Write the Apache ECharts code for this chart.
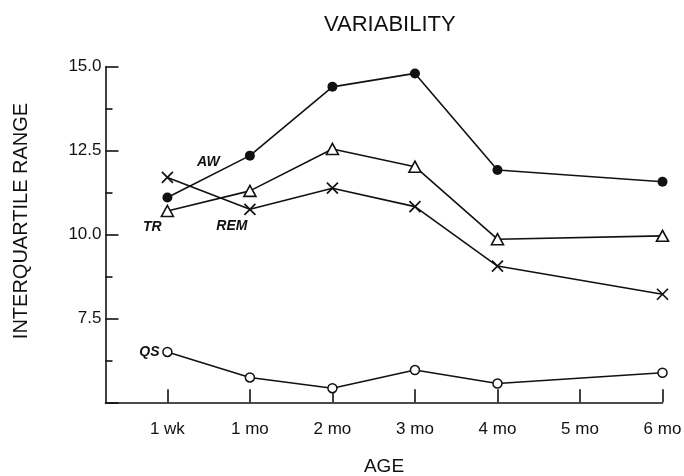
<!DOCTYPE html>
<html>
<head>
<meta charset="utf-8">
<script src="https://cdn.jsdelivr.net/npm/echarts@6/dist/echarts.min.js"></script>
<style>
  html, body { margin: 0; padding: 0; background: #fff; }
  #chart { width: 684px; height: 476px; }
</style>
</head>
<body>
<div id="chart"></div>
<script>
// age categories along the x axis
const ageLabels = ['1 wk', '1 mo', '2 mo', '3 mo', '4 mo', '5 mo', '6 mo']
const ageIndex = [0, 1, 2, 3, 4, 5, 6]

// y axis labelled ticks
const yTicks = [7.5, 10.0, 12.5, 15.0]

// interquartile range per state (5 mo has no measurement)
const awAges = [0, 1, 2, 3, 4, 6]
const awValues = [11.1, 12.35, 14.4, 14.8, 11.92, 11.57]
const trAges = [0, 1, 2, 3, 4, 6]
const trValues = [10.7, 11.3, 12.55, 12.02, 9.86, 9.96]
const remAges = [0, 1, 2, 3, 4, 6]
const remValues = [11.7, 10.75, 11.38, 10.83, 9.06, 8.22]
const qsAges = [0, 1, 2, 3, 4, 6]
const qsValues = [6.5, 5.74, 5.42, 5.96, 5.56, 5.88]

const ink = '#111'

function buildData(ages, values, tagIndex, tag, offset) {
  return ages.map((a, i) => {
    const item = { value: [a, values[i]] }
    if (i === tagIndex) {
      item.label = {
        show: true,
        position: 'inside',
        offset: offset,
        formatter: tag,
        color: ink,
        fontFamily: 'Liberation Sans',
        fontStyle: 'italic',
        fontWeight: 'bold',
        fontSize: 14,
      }
    }
    return item
  })
}

const chart = echarts.init(document.getElementById('chart'))

const option = {
  backgroundColor: '#fff',
  animation: false,
  title: {
    text: 'VARIABILITY',
    left: 324,
    top: 14,
    padding: 0,
    textStyle: {
      color: ink,
      fontFamily: 'Liberation Sans',
      fontWeight: 'normal',
      fontSize: 22,
    },
  },
  graphic: [
    {
      type: 'text',
      x: 21.5,
      y: 221,
      rotation: Math.PI / 2,
      style: {
        text: 'INTERQUARTILE RANGE',
        fill: ink,
        font: '20px "Liberation Sans"',
        textAlign: 'center',
        textVerticalAlign: 'middle',
      },
    },
  ],
  grid: {
    left: 105.5,
    right: 21.5,
    top: 66.7,
    bottom: 73.7,
    containLabel: false,
    outerBoundsMode: 'none',
  },
  xAxis: {
    type: 'value',
    min: -0.75,
    max: 6,
    name: 'AGE',
    nameLocation: 'middle',
    nameGap: 55,
    nameTextStyle: {
      color: ink,
      fontFamily: 'Liberation Sans',
      fontSize: 19,
    },
    axisLine: { onZero: false, lineStyle: { color: ink, width: 1.6 } },
    axisTick: {
      inside: true,
      length: 13,
      customValues: ageIndex,
      lineStyle: { color: ink, width: 1.6 },
    },
    axisLabel: {
      customValues: ageIndex,
      formatter: (v) => ageLabels[Math.round(v)],
      margin: 19,
      color: ink,
      fontFamily: 'Liberation Sans',
      fontSize: 17,
    },
    splitLine: { show: false },
  },
  yAxis: {
    type: 'value',
    min: 5,
    max: 15,
    interval: 2.5,
    axisLine: { show: true, onZero: false, lineStyle: { color: ink, width: 1.6 } },
    axisTick: {
      show: true,
      inside: true,
      length: 13,
      lineStyle: { color: ink, width: 1.6 },
    },
    minorTick: {
      show: true,
      splitNumber: 2,
      length: 7,
      lineStyle: { color: ink, width: 1.6 },
    },
    axisLabel: {
      formatter: (v) => (yTicks.indexOf(v) >= 0 ? v.toFixed(1) : ''),
      margin: 4,
      color: ink,
      fontFamily: 'Liberation Sans',
      fontSize: 17,
    },
    splitLine: { show: false },
    minorSplitLine: { show: false },
  },
  series: [
    {
      name: 'AW',
      type: 'line',
      data: buildData(awAges, awValues, 0, 'AW', [41, -35]),
      symbol: 'circle',
      symbolSize: 10,
      itemStyle: { color: ink },
      lineStyle: { color: ink, width: 1.6 },
    },
    {
      name: 'TR',
      type: 'line',
      data: buildData(trAges, trValues, 0, 'TR', [-15, 16]),
      symbol: 'triangle',
      symbolSize: [12, 11],
      itemStyle: { color: '#fff', borderColor: ink, borderWidth: 1.6 },
      lineStyle: { color: ink, width: 1.6 },
    },
    {
      name: 'REM',
      type: 'line',
      data: buildData(remAges, remValues, 1, 'REM', [-18, 17]),
      symbol: 'path://M0,0L10,10M10,0L0,10',
      symbolSize: 11,
      itemStyle: { color: 'none', borderColor: ink, borderWidth: 1.7 },
      lineStyle: { color: ink, width: 1.6 },
    },
    {
      name: 'QS',
      type: 'line',
      data: buildData(qsAges, qsValues, 0, 'QS', [-18, 0]),
      symbol: 'circle',
      symbolSize: 9,
      itemStyle: { color: '#fff', borderColor: ink, borderWidth: 1.5 },
      lineStyle: { color: ink, width: 1.6 },
    },
  ],
}

chart.setOption(option)
</script>
</body>
</html>
